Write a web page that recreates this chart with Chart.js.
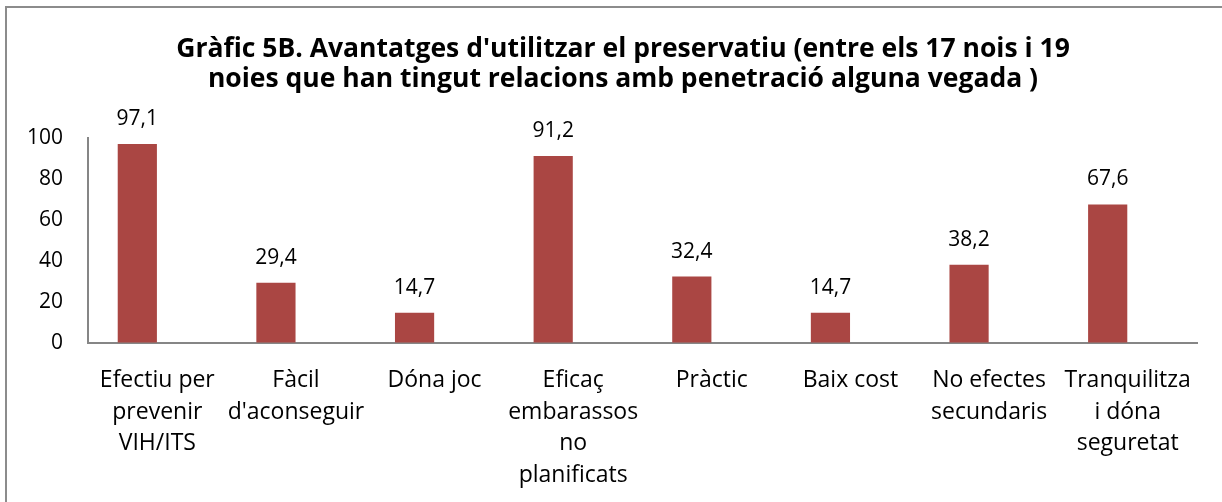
<!DOCTYPE html>
<html>
<head>
<meta charset="utf-8">
<script src="https://cdn.jsdelivr.net/npm/chart.js@4"></script>
<style>
  html, body { margin: 0; padding: 0; background: #fff; }
  #wrap { position: relative; width: 1222px; height: 502px; }
  #frame { position: absolute; left: 5px; top: 6px; right: 0; bottom: 0;
           border-left: 2px solid #8c8c8c; border-top: 2px solid #8c8c8c; }
  canvas { position: absolute; left: 0; top: 0; }
</style>
</head>
<body>
<div id="wrap">
  <div id="frame"></div>
  <canvas id="myChart" width="1222" height="502"></canvas>
</div>
<script>
var categories = [
  ['Efectiu per', 'prevenir', 'VIH/ITS'],
  ['Fàcil', "d'aconseguir"],
  ['Dóna joc'],
  ['Eficaç', 'embarassos', 'no', 'planificats'],
  ['Pràctic'],
  ['Baix cost'],
  ['No efectes', 'secundaris'],
  ['Tranquilitza', 'i dóna', 'seguretat']
]
var values = [97.1, 29.4, 14.7, 91.2, 32.4, 14.7, 38.2, 67.6]
var emptySeries = [null, null, null, null, null, null, null, null]
var titleLines = [
  "Gràfic 5B. Avantatges d'utilitzar el preservatiu (entre els 17 nois i 19",
  "noies que han tingut relacions amb penetració alguna vegada )"
]
var yTicks = [0, 20, 40, 60, 80, 100]

var fontName = '"Open Sans"'

// draws the numbers over the bars
var barLabels = {
  id: 'barLabels',
  afterDatasetsDraw(chart) {
    var ctx = chart.ctx
    var meta = chart.getDatasetMeta(0)
    ctx.save()
    ctx.font = '21px ' + fontName
    ctx.fillStyle = '#000'
    ctx.textAlign = 'center'
    ctx.textBaseline = 'alphabetic'
    meta.data.forEach(function (bar, i) {
      ctx.fillText(String(values[i]).replace('.', ','), bar.x, bar.y - 19)
    })
    ctx.restore()
  }
}

var titleText = {
  id: 'titleText',
  afterDraw(chart) {
    var ctx = chart.ctx
    ctx.save()
    ctx.font = 'bold 26.5px ' + fontName
    ctx.fillStyle = '#000'
    ctx.textAlign = 'center'
    ctx.textBaseline = 'alphabetic'
    titleLines.forEach(function (line, i) {
      ctx.fillText(line, 623, 57 + i * 30)
    })
    ctx.restore()
  }
}

var chartField = document.querySelector('#myChart').getContext('2d')

var myChart = new Chart(chartField, {
  type: 'bar',
  data: {
    labels: categories,
    datasets: [{
      data: values,
      backgroundColor: '#AA4643',
      borderWidth: 0
    }, {
      data: emptySeries,
      backgroundColor: '#4572A7',
      borderWidth: 0
    }]
  },
  options: {
    responsive: false,
    animation: false,
    datasets: {
      bar: { categoryPercentage: 0.577, barPercentage: 0.98 }
    },
    layout: { padding: { left: 0, right: 25, top: 138, bottom: 0 } },
    plugins: {
      legend: { display: false },
      title: { display: false },
      tooltip: { enabled: false }
    },
    scales: {
      x: {
        grid: { color: 'transparent', drawTicks: false },
        border: { display: true, color: '#868686', width: 2 },
        ticks: {
          color: '#000',
          font: { family: fontName, size: 23, lineHeight: 1.39 },
          padding: 21,
          maxRotation: 0,
          autoSkip: false
        },
        afterFit: function (scale) { scale.height = 159 }
      },
      y: {
        min: 0,
        max: 100,
        afterBuildTicks: function (scale) {
          scale.ticks = yTicks.map(function (v) { return { value: v } })
        },
        grid: { color: 'transparent', drawTicks: false },
        border: { display: true, color: '#868686', width: 2 },
        ticks: {
          color: '#000',
          font: { family: fontName, size: 21 },
          padding: 25
        },
        afterFit: function (scale) { scale.width = 88 }
      }
    }
  },
  plugins: [barLabels, titleText]
})
</script>
</body>
</html>
